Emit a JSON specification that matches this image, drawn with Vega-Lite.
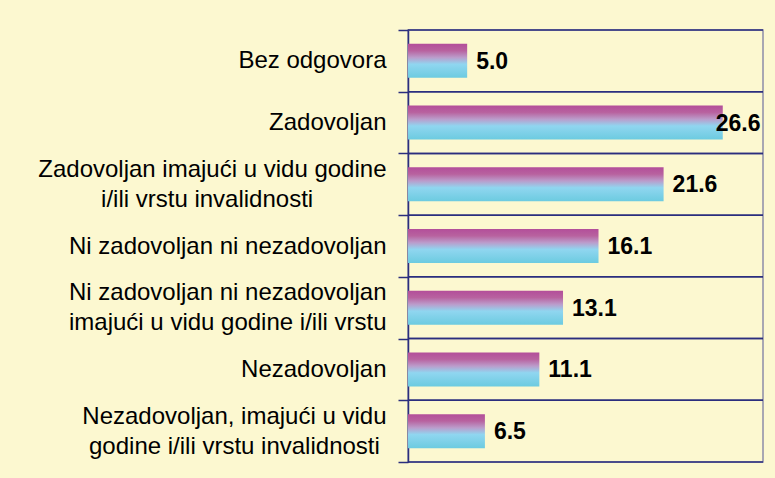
{
  "$schema": "https://vega.github.io/schema/vega-lite/v6.json",
  "width": 355,
  "height": 432,
  "autosize": {"type": "none"},
  "padding": {"left": 408, "top": 30, "right": 12, "bottom": 16},
  "background": "#fcf8d0",
  "config": {"view": {"stroke": "#8c8ca8", "strokeWidth": 1.5}, "font": "Liberation Sans"},
  "data": {
    "values": [
      {"odgovor": "Bez odgovora", "procenat": 5.0},
      {"odgovor": "Zadovoljan", "procenat": 26.6},
      {"odgovor": "Zadovoljan imajući u vidu godine i/ili vrstu invalidnosti", "procenat": 21.6},
      {"odgovor": "Ni zadovoljan ni nezadovoljan", "procenat": 16.1},
      {"odgovor": "Ni zadovoljan ni nezadovoljan imajući u vidu godine i/ili vrstu", "procenat": 13.1},
      {"odgovor": "Nezadovoljan", "procenat": 11.1},
      {"odgovor": "Nezadovoljan, imajući u vidu godine i/ili vrstu invalidnosti", "procenat": 6.5}
    ]
  },
  "encoding": {
    "y": {
      "field": "odgovor",
      "type": "nominal",
      "sort": null,
      "scale": {"paddingInner": 0, "paddingOuter": 0},
      "axis": {
        "title": null,
        "grid": false,
        "tickBand": "extent",
        "tickColor": "#2b2e7e",
        "tickSize": 10,
        "tickWidth": 1.5,
        "domainColor": "#2b2e7e",
        "domainWidth": 1.5,
        "labelFont": "Liberation Sans",
        "labelFontSize": 24,
        "labelColor": "#000000",
        "labelPadding": 12,
        "labelLineHeight": 15,
        "labelOffset": -15,
        "labelLimit": 420,
        "labelOverlap": false,
        "labelExpr": "datum.label == 'Zadovoljan imajući u vidu godine i/ili vrstu invalidnosti' ? ['Zadovoljan imajući u vidu godine', '\u200b', 'i/ili vrstu invalidnosti\u00a0\u00a0\u00a0\u00a0\u00a0\u00a0\u00a0\u00a0\u00a0\u00a0\u00a0\u200b'] : datum.label == 'Ni zadovoljan ni nezadovoljan imajući u vidu godine i/ili vrstu' ? ['Ni zadovoljan ni nezadovoljan', '\u200b', 'imajući u vidu godine i/ili vrstu'] : datum.label == 'Nezadovoljan, imajući u vidu godine i/ili vrstu invalidnosti' ? ['Nezadovoljan, imajući u vidu', '\u200b', 'godine i/ili vrstu invalidnosti\u00a0\u200b'] : ['\u200b', datum.label]"
      }
    }
  },
  "layer": [
    {
      "mark": {"type": "rule", "color": "#2b2e7e", "strokeWidth": 1.5},
      "encoding": {"y": {"field": "odgovor", "type": "nominal", "sort": null, "bandPosition": 0}}
    },
    {
      "mark": {"type": "rule", "color": "#2b2e7e", "strokeWidth": 1.5},
      "encoding": {"y": {"field": "odgovor", "type": "nominal", "sort": null, "bandPosition": 1}}
    },
    {
      "mark": {
        "type": "bar",
        "size": 34,
        "fill": {
          "gradient": "linear",
          "x1": 0, "y1": 0, "x2": 0, "y2": 1,
          "stops": [
            {"offset": 0, "color": "#b34e9a"},
            {"offset": 0.2, "color": "#b8629f"},
            {"offset": 0.4, "color": "#bb9ccb"},
            {"offset": 0.6, "color": "#90d6f0"},
            {"offset": 1, "color": "#6ccbe0"}
          ]
        }
      },
      "encoding": {
        "x": {"field": "procenat", "type": "quantitative", "scale": {"domain": [0, 30]}, "axis": null}
      }
    },
    {
      "transform": [{"filter": "datum.procenat < 25"}],
      "mark": {"type": "text", "align": "left", "baseline": "middle", "dx": 9, "dy": 1, "fontWeight": "bold", "fontSize": 23, "font": "Liberation Sans", "color": "#000000"},
      "encoding": {
        "x": {"field": "procenat", "type": "quantitative"},
        "text": {"field": "procenat", "type": "quantitative", "format": ".1f"}
      }
    },
    {
      "transform": [{"filter": "datum.procenat >= 25"}],
      "mark": {"type": "text", "align": "left", "baseline": "middle", "dx": -7, "dy": 1, "fontWeight": "bold", "fontSize": 23, "font": "Liberation Sans", "color": "#000000"},
      "encoding": {
        "x": {"field": "procenat", "type": "quantitative"},
        "text": {"field": "procenat", "type": "quantitative", "format": ".1f"}
      }
    }
  ]
}
